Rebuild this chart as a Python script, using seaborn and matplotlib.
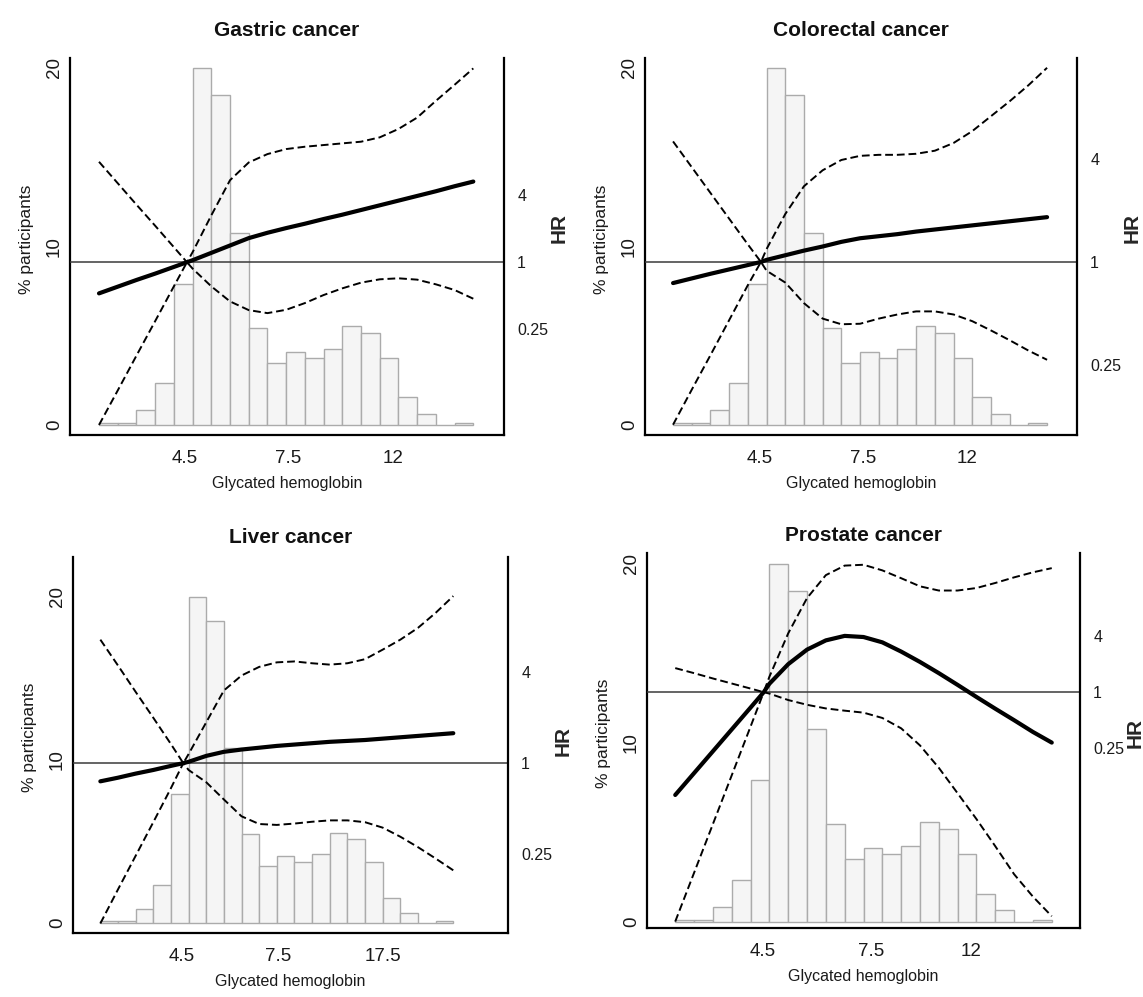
import numpy as np
import pandas as pd
import seaborn as sns
import matplotlib.pyplot as plt

sns.set_theme(style="white")
plt.rcParams['font.family'] = ['Liberation Sans', 'DejaVu Sans']

# ---------------- data ----------------
titles = ["Gastric cancer", "Colorectal cancer", "Liver cancer", "Prostate cancer"]

# histogram: % participants in each of 20 equal-width bins of glycated hemoglobin
pct_participants = [0.1, 0.1, 0.85, 2.35, 7.9, 20.0, 18.5, 10.75, 5.45, 3.5,
                    4.1, 3.77, 4.23, 5.55, 5.17, 3.77, 1.55, 0.63, 0.0, 0.1]
bin_index = list(range(20))

# spline position (in bin units) and log2(HR)
curve_pos = [0, 1, 2, 3, 4, 4.7, 5, 6, 7, 8, 9, 10, 11, 12, 13, 14, 15, 16, 17, 18, 19, 20]

gastric_hr = [-0.93, -0.73, -0.53, -0.34, -0.14, 0, 0.06, 0.28, 0.50, 0.72, 0.88, 1.02,
              1.15, 1.29, 1.42, 1.56, 1.70, 1.84, 1.98, 2.12, 2.27, 2.41]
gastric_hi = [3.0, 2.36, 1.72, 1.09, 0.45, 0, 0.3, 1.4, 2.45, 2.98, 3.23, 3.38,
              3.45, 3.5, 3.55, 3.6, 3.73, 3.98, 4.32, 4.82, 5.3, 5.79]
gastric_lo = [-4.86, -3.83, -2.79, -1.76, -0.72, 0, -0.19, -0.72, -1.17, -1.43, -1.52, -1.42,
              -1.22, -0.98, -0.78, -0.61, -0.51, -0.48, -0.52, -0.66, -0.83, -1.09]

colorectal_hr = [-0.41, -0.32, -0.23, -0.145, -0.06, 0, 0.04, 0.13, 0.22, 0.30, 0.39, 0.46,
                 0.5, 0.54, 0.59, 0.63, 0.67, 0.71, 0.75, 0.79, 0.83, 0.87]
colorectal_hi = [2.34, 1.84, 1.34, 0.84, 0.34, 0, 0.25, 0.93, 1.47, 1.78, 1.98, 2.06,
                 2.08, 2.08, 2.1, 2.16, 2.31, 2.54, 2.83, 3.12, 3.43, 3.77]
colorectal_lo = [-3.16, -2.48, -1.81, -1.13, -0.45, 0, -0.17, -0.4, -0.8, -1.1, -1.21, -1.2,
                 -1.1, -1.02, -0.96, -0.96, -1.02, -1.15, -1.33, -1.52, -1.72, -1.9]

liver_hr = [-0.4, -0.32, -0.23, -0.15, -0.06, 0, 0.03, 0.16, 0.25, 0.3, 0.34, 0.38,
            0.41, 0.44, 0.47, 0.49, 0.51, 0.54, 0.57, 0.6, 0.63, 0.66]
liver_hi = [2.72, 2.15, 1.57, 1.0, 0.42, 0, 0.2, 0.9, 1.6, 1.93, 2.12, 2.22,
            2.24, 2.2, 2.17, 2.2, 2.29, 2.5, 2.72, 2.98, 3.31, 3.68]
liver_lo = [-3.53, -2.78, -2.04, -1.3, -0.55, 0, -0.15, -0.42, -0.8, -1.17, -1.34, -1.36,
            -1.33, -1.29, -1.26, -1.26, -1.3, -1.42, -1.62, -1.85, -2.1, -2.36]

prostate_hr = [-3.67, -2.89, -2.11, -1.33, -0.55, 0, 0.3, 1.0, 1.52, 1.85, 2.01, 1.97,
               1.78, 1.45, 1.08, 0.68, 0.26, -0.17, -0.59, -1.0, -1.42, -1.8]
prostate_hi = [0.86, 0.68, 0.49, 0.31, 0.13, 0, 0.55, 2.1, 3.36, 4.18, 4.52, 4.55,
               4.35, 4.07, 3.78, 3.63, 3.63, 3.72, 3.9, 4.1, 4.28, 4.43]
prostate_lo = [-8.19, -6.45, -4.71, -2.97, -1.23, 0, -0.05, -0.28, -0.45, -0.58, -0.66, -0.73,
               -0.92, -1.29, -1.9, -2.7, -3.61, -4.53, -5.5, -6.5, -7.3, -8.0]

x_tick_labels = [["4.5", "7.5", "12"], ["4.5", "7.5", "12"],
                 ["4.5", "7.5", "17.5"], ["4.5", "7.5", "12"]]
x_tick_pos = [[4.6, 10.1, 15.7], [4.65, 10.15, 15.7],
              [4.63, 10.06, 16.0], [4.63, 10.4, 15.7]]
hr_tick_labels = ["0.25", "1", "4"]
hr_tick_log2 = [-2, 0, 2]
pct_ticks = [0, 10, 20]

curves = [(gastric_hr, gastric_lo, gastric_hi),
          (colorectal_hr, colorectal_lo, colorectal_hi),
          (liver_hr, liver_lo, liver_hi),
          (prostate_hr, prostate_lo, prostate_hi)]

# ---------------- layout ----------------
W, H = 1143, 997
boxes = [(70, 58, 504, 435), (645, 58, 1077, 435),
         (73, 557, 508, 933), (647, 553, 1080, 928)]
xlims = [(-1.55, 21.64), (-1.5, 21.6), (-1.55, 23.1), (-1.5, 21.5)]
pct_lims = [(-0.56, 20.56), (-0.56, 20.56), (-0.61, 22.45), (-0.35, 20.6)]
hr_lims = [(-5.16, 6.10), (-3.36, 3.96), (-3.74, 4.54), (-8.42, 4.97)]
title_pads = [16, 16, 10, 9]
hr_label_y = [0.55, 0.55, 0.51, 0.52]

fig = plt.figure(figsize=(W / 100, H / 100), dpi=100)
hist_df = pd.DataFrame({"bin": [b + 0.5 for b in bin_index], "pct": pct_participants})

for i in range(4):
    l, t, r, b = boxes[i]
    aw = r - l
    ax = fig.add_axes([l / W, 1 - b / H, aw / W, (b - t) / H])
    sns.histplot(data=hist_df, x="bin", weights="pct", binwidth=1, binrange=(0, 20), ax=ax,
                 color="#f5f5f5", edgecolor="#ababab", linewidth=1.0, alpha=1.0)
    ax.set_xlim(*xlims[i])
    ax.set_ylim(*pct_lims[i])
    ax.set_yticks(pct_ticks)
    ax.set_yticklabels([str(v) for v in pct_ticks], rotation=90, va="center",
                       fontsize=13.5, color="#1a1a1a")
    ax.set_xticks(x_tick_pos[i])
    ax.set_xticklabels(x_tick_labels[i], fontsize=13.5, color="#1a1a1a")
    ax.tick_params(axis="both", length=0)
    ax.tick_params(axis="x", pad=11)
    ax.tick_params(axis="y", pad=5)
    ax.set_xlabel("Glycated hemoglobin", fontsize=11.5, labelpad=6, color="#1a1a1a")
    ax.set_ylabel("% participants", fontsize=12.5, color="#1a1a1a")
    ax.yaxis.set_label_coords(-36 / aw, 0.52)
    ax.set_title(titles[i], fontsize=15, fontweight="bold", pad=title_pads[i], color="#111111")
    for s in ["left", "bottom"]:
        ax.spines[s].set_color("black")
        ax.spines[s].set_linewidth(1.6)
    ax.spines["top"].set_visible(False)
    ax.spines["right"].set_visible(False)
    ax.grid(False)

    ax2 = ax.twinx()
    hr, lo, hi = curves[i]
    cdf = pd.DataFrame({"pos": curve_pos, "hr": hr, "lo": lo, "hi": hi})
    ax2.axhline(0, color="#3a3a3a", linewidth=1.1)
    sns.lineplot(data=cdf, x="pos", y="lo", ax=ax2, color="black", linewidth=1.4,
                 linestyle=(0, (4.0, 2.0)), sort=False)
    sns.lineplot(data=cdf, x="pos", y="hi", ax=ax2, color="black", linewidth=1.4,
                 linestyle=(0, (4.0, 2.0)), sort=False)
    sns.lineplot(data=cdf, x="pos", y="hr", ax=ax2, color="black", linewidth=3.0, sort=False)
    ax2.set_xlim(*xlims[i])
    ax2.set_ylim(*hr_lims[i])
    ax2.set_yticks(hr_tick_log2)
    ax2.set_yticklabels(hr_tick_labels, fontsize=11.5, color="#1a1a1a")
    ax2.tick_params(axis="y", length=0, pad=9.5)
    ax2.set_xlabel("")
    ax2.set_ylabel("HR", fontsize=15, fontweight="bold", rotation=90)
    ax2.yaxis.set_label_coords(1 + 46 / aw, hr_label_y[i])
    for s in ["left", "bottom", "top"]:
        ax2.spines[s].set_visible(False)
    ax2.spines["right"].set_color("black")
    ax2.spines["right"].set_linewidth(1.6)
    ax2.grid(False)

fig.savefig("out.png", dpi=100, facecolor="white")
